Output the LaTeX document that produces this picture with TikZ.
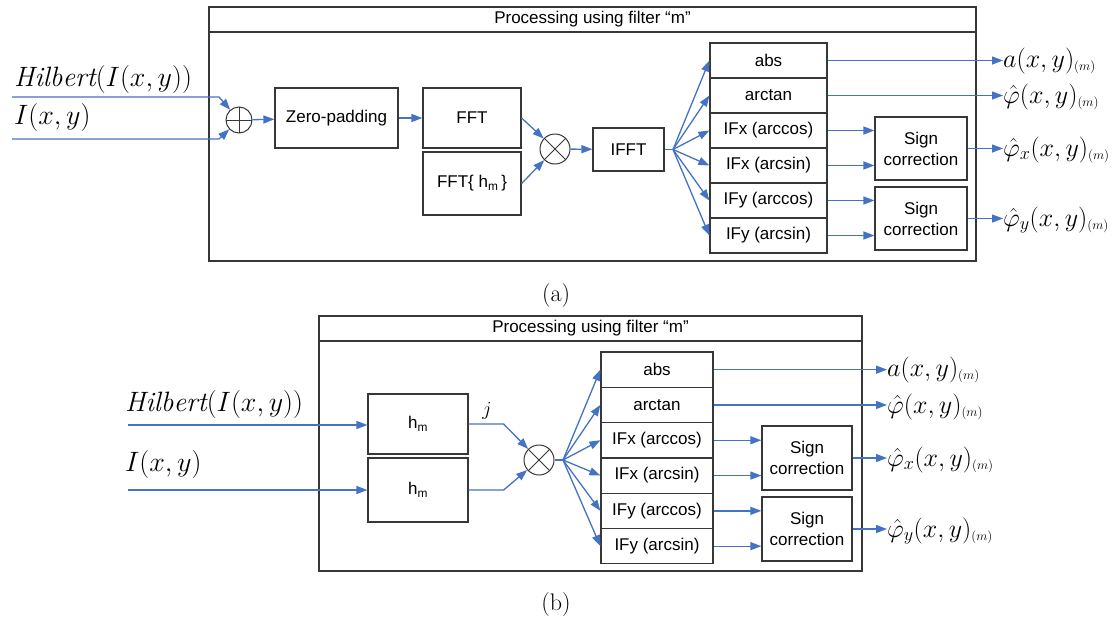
\documentclass[tikz,border=0pt]{standalone}
\usepackage{fix-cm}
\usepackage{fontspec}
\newfontfamily\arialfont{Liberation Sans}
\usetikzlibrary{arrows.meta,calc,positioning}
\definecolor{sigblue}{RGB}{68,114,196}
\definecolor{boxgray}{RGB}{55,55,55}
\tikzset{
  proc box/.style={draw=boxgray,line width=1.2pt,inner sep=2pt,align=center,font=\arialfont\fontsize{17}{21}\selectfont},
  frame line/.style={draw=boxgray,line width=1.3pt},
  frame title/.style={proc box,minimum height=25pt,inner sep=0pt},
  op node/.style={circle,draw=boxgray,line width=1pt,inner sep=0pt},
  plus op/.style={op node,minimum size=26pt,path picture={\draw[boxgray,line width=1pt] (path picture bounding box.north) -- (path picture bounding box.south) (path picture bounding box.west) -- (path picture bounding box.east);}},
  times op/.style={op node,minimum size=30pt,path picture={\draw[boxgray,line width=1pt] (path picture bounding box.north west) -- (path picture bounding box.south east) (path picture bounding box.north east) -- (path picture bounding box.south west);}},
  sig edge/.style={-{Triangle[length=11pt,width=8pt]},sigblue,line width=1.3pt},
  sig line/.style={sigblue,line width=1.3pt},
  sig label/.style={inner sep=0pt,anchor=base west,font=\fontsize{26}{30}\selectfont},
  in label/.style={inner sep=0pt,anchor=base west,font=\fontsize{28}{32}\selectfont},
  cap label/.style={inner sep=0pt,font=\fontsize{24}{28}\selectfont},
}
\newcommand{\filt}{_{\scriptscriptstyle(m)}}

\begin{document}
\begin{tikzpicture}[x=1pt,y=-1pt]
  \useasboundingbox (0,0) rectangle (1115,624);

  % (a)
  \draw[frame line] (209,7) rectangle (976,261);
  \node[frame title,minimum width=767pt] (titleA) at (592.5,19.5) {Processing using filter “m”};
  \node[in label] (hilA) at (14,86) {$\mathit{Hilbert}\Bigl(I(x,y)\Bigr)$};
  \node[in label] (intA) at (14,124) {$I(x,y)$};
  \coordinate (inA1) at (12,97);
  \coordinate (inA2) at (12,139);
  \node[plus op] (plusA) at (239,120) {};
  \node[proc box,minimum width=123pt,minimum height=60pt] (zpadA) at (336.5,118) {Zero-padding};
  \node[proc box,minimum width=98pt,minimum height=60pt] (fftA) at (472,118) {FFT};
  \node[proc box,minimum width=98pt,minimum height=63pt] (ffthA) at (472,183.5) {FFT\{ h\textsubscript{m}\,\}};
  \node[times op] (timesA) at (555,149) {};
  \node[proc box,minimum width=71pt,minimum height=43pt] (ifftA) at (628.5,149.5) {IFFT};
  \coordinate (fanA) at (673,149.5);
  \foreach \txt [count=\i] in {abs,arctan,IFx (arccos),IFx (arcsin),IFy (arccos),IFy (arcsin)} {
    \node[proc box,minimum width=117pt,minimum height=35pt] (rowA\i) at (768.5,{25.5+35*\i}) {\txt};
    \draw[sig edge] (fanA) -- (rowA\i.west);
  }
  \node[proc box,minimum width=92pt,minimum height=63pt] (signA1) at (921,148.5) {Sign\\correction};
  \node[proc box,minimum width=92pt,minimum height=63pt] (signA2) at (921,218.5) {Sign\\correction};
  \node[sig label] (outA1) at (1003,67) {$a(x,y)\filt$};
  \node[sig label] (outA2) at (1003,103) {$\hat{\varphi}(x,y)\filt$};
  \node[sig label] (outA3) at (1003,156) {$\hat{\varphi}_x(x,y)\filt$};
  \node[sig label] (outA4) at (1003,226) {$\hat{\varphi}_y(x,y)\filt$};
  \draw[sig edge] (inA1) -- ++(207,0) -- (plusA);
  \draw[sig edge] (inA2) -- ++(207,0) -- (plusA);
  \draw[sig edge] (plusA) -- (zpadA);
  \draw[sig edge] (zpadA) -- (fftA);
  \draw[sig edge] (fftA.east) -- (timesA);
  \draw[sig edge] (ffthA.east) -- (timesA);
  \draw[sig edge] (timesA) -- (ifftA);
  \draw[sig line] (ifftA) -- (fanA);
  \foreach \i/\j in {3/1,4/1,5/2,6/2}
    \draw[sig edge] (rowA\i.east) -- (rowA\i.east -| signA\j.west);
  \draw[sig edge] (rowA1.east) -- (rowA1.east -| outA1.west);
  \draw[sig edge] (rowA2.east) -- (rowA2.east -| outA2.west);
  \draw[sig edge] (signA1.east) -- (signA1.east -| outA3.west);
  \draw[sig edge] (signA2.east) -- (signA2.east -| outA4.west);
  \node[cap label] (capA) at (556,296) {(a)};

  % (b)
  \draw[frame line] (319,316) rectangle (862,571);
  \node[frame title,minimum width=543pt] (titleB) at (590.5,328.5) {Processing using filter “m”};
  \node[in label] (hilB) at (125,411) {$\mathit{Hilbert}\Bigl(I(x,y)\Bigr)$};
  \node[in label] (intB) at (125,471) {$I(x,y)$};
  \coordinate (inB1) at (128,425);
  \coordinate (inB2) at (128,490);
  \node[proc box,minimum width=100pt,minimum height=60pt] (hB1) at (418,424) {h\textsubscript{m}};
  \node[proc box,minimum width=100pt,minimum height=64pt] (hB2) at (418,490) {h\textsubscript{m}};
  \node[inner sep=0pt,font=\fontsize{20}{24}\selectfont] (jB) at (487,411) {$j$};
  \node[times op] (timesB) at (539,460) {};
  \coordinate (fanB) at (563,460);
  \foreach \txt [count=\i] in {abs,arctan,IFx (arccos),IFx (arcsin),IFy (arccos),IFy (arcsin)} {
    \node[proc box,minimum width=112pt,minimum height=35.3pt] (rowB\i) at (657,{334.35+35.3*\i}) {\txt};
    \draw[sig edge] (fanB) -- (rowB\i.west);
  }
  \node[proc box,minimum width=90pt,minimum height=64pt] (signB1) at (807,458) {Sign\\correction};
  \node[proc box,minimum width=90pt,minimum height=64pt] (signB2) at (807,529) {Sign\\correction};
  \node[sig label] (outB1) at (887,376) {$a(x,y)\filt$};
  \node[sig label] (outB2) at (887,413) {$\hat{\varphi}(x,y)\filt$};
  \node[sig label] (outB3) at (887,466) {$\hat{\varphi}_x(x,y)\filt$};
  \node[sig label] (outB4) at (887,537) {$\hat{\varphi}_y(x,y)\filt$};
  \draw[sig edge] (inB1) -- (inB1 -| hB1.west);
  \draw[sig edge] (inB2) -- (inB2 -| hB2.west);
  \draw[sig edge] (hB1.east) -- ++(35,0) -- (timesB);
  \draw[sig edge] (hB2.east) -- ++(35,0) -- (timesB);
  \draw[sig line] (timesB) -- (fanB);
  \foreach \i/\j in {3/1,4/1,5/2,6/2}
    \draw[sig edge] (rowB\i.east) -- (rowB\i.east -| signB\j.west);
  \draw[sig edge] (rowB1.east) -- (rowB1.east -| outB1.west);
  \draw[sig edge] (rowB2.east) -- (rowB2.east -| outB2.west);
  \draw[sig edge] (signB1.east) -- (signB1.east -| outB3.west);
  \draw[sig edge] (signB2.east) -- (signB2.east -| outB4.west);
  \node[cap label] (capB) at (556,605) {(b)};
\end{tikzpicture}
\end{document}
